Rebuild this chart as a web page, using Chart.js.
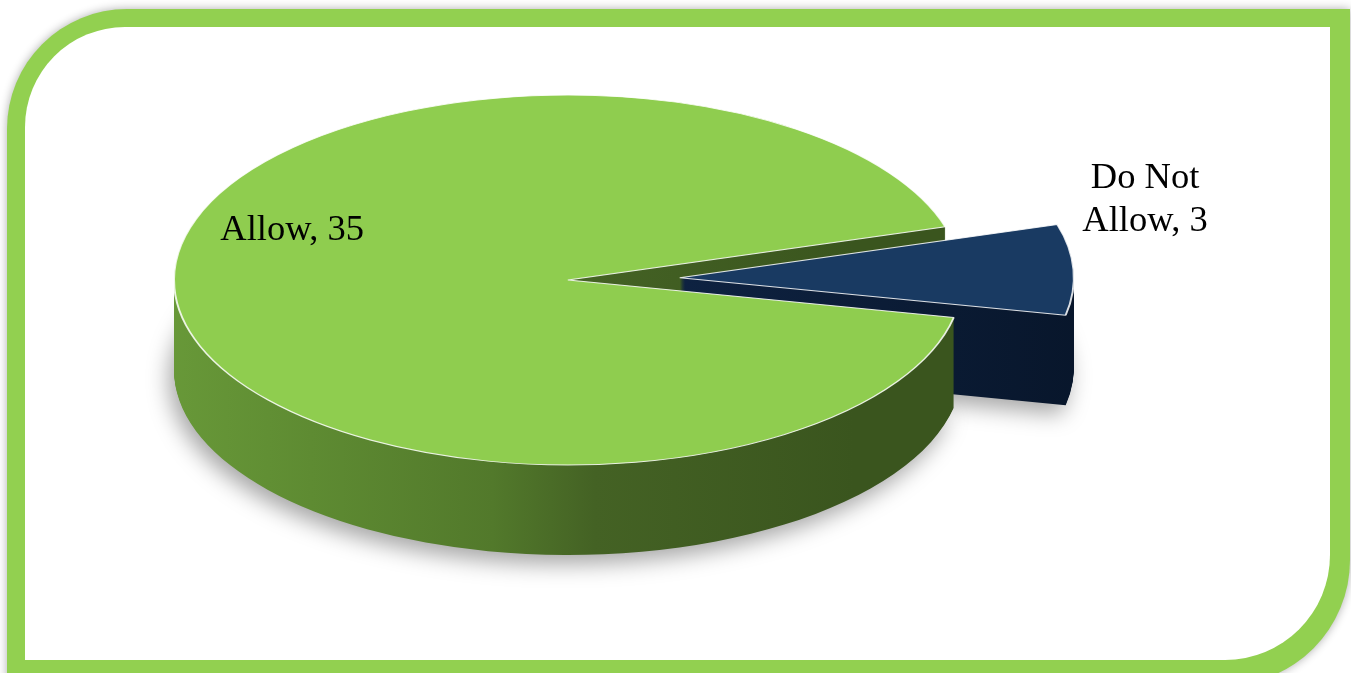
<!DOCTYPE html>
<html><head><meta charset="utf-8">
<script src="https://cdn.jsdelivr.net/npm/chart.js@4.4.1/dist/chart.umd.min.js"></script>
<style>html,body{margin:0;padding:0;background:#fff;overflow:hidden}#wrap{width:1351px;height:673px;position:relative}</style>
</head><body><div id="wrap"><canvas id="c"></canvas></div>
<script>
// ---- data ----
const categories = ['Allow', 'Do Not Allow'];
const values = [35, 3];
const labelLines = [['Allow, 35'], ['Do Not', 'Allow, 3']];

// ---- style / layout ----
const topColors = ['#8FCD4F', '#193A62'];
const TILT = 0.4695;       // vertical squash of the pie disc
const DEPTH = 90;          // thickness in px
const CX = 568, CY = 280;  // screen centre of the top face
const RADIUS = 394;
const EXPLODE = [0, 112];  // px, along the mid angle
const ROTATION = 101.7;
const LABEL_POS = [{angle: 201, dist: 0.75}, {angle: -19.7, dist: 1.254}];
const LABEL_FONT = '36.5px "Liberation Serif", "Times New Roman", serif';
const LINE_H = 43;

function tilt(ctx, arc) {
  ctx.translate(CX, CY);
  ctx.scale(1, TILT);
  ctx.translate(-arc.x, -arc.y);
}

function drawArcWith(ctx, arc, i, opts) {
  const mid = (arc.startAngle + arc.endAngle) / 2;
  ctx.save();
  ctx.translate(Math.cos(mid) * EXPLODE[i], Math.sin(mid) * EXPLODE[i]);
  const orig = arc.options;
  arc.options = Object.assign({}, orig, opts);
  arc.draw(ctx);
  arc.options = orig;
  ctx.restore();
}

const framePlugin = {
  id: 'frame',
  beforeDraw(chart) {
    const ctx = chart.ctx;
    ctx.save();
    ctx.fillStyle = '#ffffff';
    ctx.fillRect(0, 0, chart.width, chart.height);
    const shape = (L, T, R, B, r1, r2) => {
      ctx.beginPath();
      ctx.moveTo(L + r1, T);
      ctx.lineTo(R, T);
      ctx.lineTo(R, B - r2);
      ctx.arcTo(R, B, R - r2, B, r2);
      ctx.lineTo(L, B);
      ctx.lineTo(L, T + r1);
      ctx.arcTo(L, T, L + r1, T, r1);
      ctx.closePath();
    };
    ctx.shadowColor = 'rgba(0,0,0,0.32)';
    ctx.shadowBlur = 10;
    ctx.fillStyle = '#92D050';
    shape(7, 9, 1350, 685, 120, 125);
    ctx.fill();
    ctx.shadowColor = 'transparent';
    ctx.shadowBlur = 0;
    ctx.fillStyle = '#ffffff';
    shape(25, 27, 1330, 660, 100, 105);
    ctx.fill();
    ctx.restore();
  }
};

const pie3dPlugin = {
  id: 'pie3d',
  beforeDatasetsDraw(chart) {
    const ctx = chart.ctx;
    const arcs = chart.getDatasetMeta(0).data;
    if (!arcs.length) return false;
    const gGreen = ctx.createLinearGradient(175, 0, 962, 0);
    gGreen.addColorStop(0, '#6FA23D');
    gGreen.addColorStop(0.31, '#5E8B32');
    gGreen.addColorStop(0.54, '#52792B');
    gGreen.addColorStop(0.67, '#446224');
    gGreen.addColorStop(1, '#3A551E');
    const gNavy = ctx.createLinearGradient(680, 0, 1080, 0);
    gNavy.addColorStop(0, '#0E2241');
    gNavy.addColorStop(1, '#08162B');
    const sides = [gGreen, gNavy];
    ctx.save();
    tilt(ctx, arcs[0]);
    for (let d = DEPTH; d >= 1; d--) {
      ctx.save();
      ctx.translate(0, d / TILT);
      if (d === DEPTH) {
        ctx.shadowColor = 'rgba(0,0,0,0.35)';
        ctx.shadowBlur = 22;
        ctx.shadowOffsetX = -5;
        ctx.shadowOffsetY = 9;
      }
      arcs.forEach((arc, i) => drawArcWith(ctx, arc, i, {backgroundColor: sides[i], borderWidth: 0, borderColor: 'transparent'}));
      ctx.restore();
    }
    arcs.forEach((arc, i) => drawArcWith(ctx, arc, i, {backgroundColor: topColors[i], borderWidth: 2, borderColor: 'rgba(255,255,255,0.85)'}));
    ctx.restore();
    return false; // datasets drawn here
  },
  afterDraw(chart) {
    const ctx = chart.ctx;
    const arcs = chart.getDatasetMeta(0).data;
    ctx.save();
    ctx.font = LABEL_FONT;
    ctx.fillStyle = '#000';
    ctx.textAlign = 'center';
    ctx.textBaseline = 'middle';
    arcs.forEach((arc, i) => {
      const mid = (arc.startAngle + arc.endAngle) / 2;
      const sx = CX + Math.cos(mid) * EXPLODE[i];
      const sy = CY + Math.sin(mid) * EXPLODE[i] * TILT;
      const a = LABEL_POS[i].angle * Math.PI / 180;
      const r = arc.outerRadius * LABEL_POS[i].dist;
      const x = sx + Math.cos(a) * r;
      const y = sy + Math.sin(a) * r * TILT;
      const lines = labelLines[i];
      lines.forEach((t, k) => ctx.fillText(t, x, y + (k - (lines.length - 1) / 2) * LINE_H));
    });
    ctx.restore();
  }
};

new Chart(document.getElementById('c'), {
  type: 'pie',
  data: {
    labels: categories,
    datasets: [{ data: values, backgroundColor: topColors, borderWidth: 0, clip: false }]
  },
  options: {
    responsive: true,
    maintainAspectRatio: false,
    animation: false,
    events: [],
    rotation: ROTATION,
    radius: RADIUS,
    layout: { padding: 0 },
    plugins: { legend: { display: false }, tooltip: { enabled: false } }
  },
  plugins: [framePlugin, pie3dPlugin]
});
</script>
</body></html>
